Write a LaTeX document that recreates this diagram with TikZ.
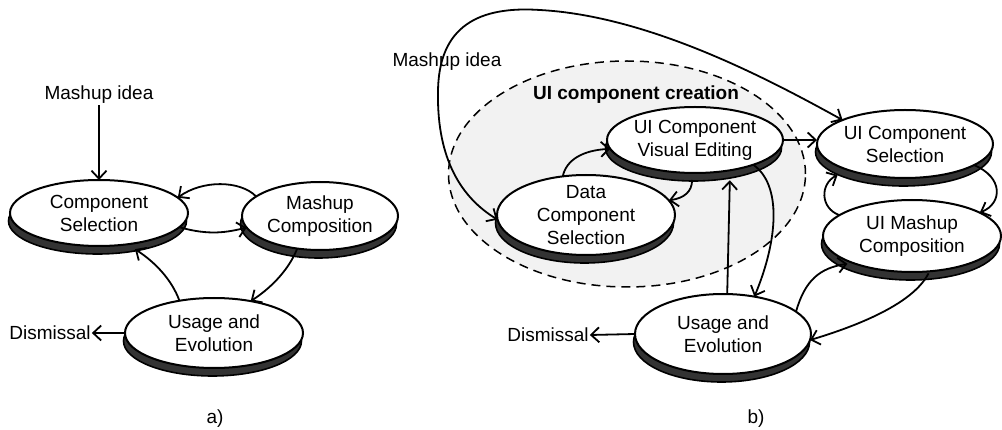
\documentclass[tikz,border=0pt]{standalone}
\usepackage{fontspec}
\setmainfont{Liberation Sans}
\usetikzlibrary{shapes.geometric,arrows.meta,shadows,calc}
\definecolor{shadowc}{HTML}{333333}
\definecolor{groupfill}{HTML}{F2F2F2}
\begin{document}
\begin{tikzpicture}[x=1pt,y=-1pt,
  ell/.style={ellipse, draw=black, fill=white, line width=2pt, inner sep=0pt, outer sep=0pt,
    general shadow={fill=shadowc, draw=black, line width=1.6pt, shadow xshift=-1.5pt, shadow yshift=-8pt}},
  lbl/.style={font=\fontsize{19}{23}\selectfont, align=center, inner sep=0pt},
  txt/.style={font=\fontsize{19}{23}\selectfont, inner sep=1pt},
  ttl/.style={font=\fontsize{19}{23}\selectfont\bfseries, inner sep=1pt},
  tip/.tip={Straight Barb[length=8pt,width=15pt]},
  conn/.style={line width=1.8pt, -tip},
  bconn/.style={line width=1.8pt, tip-tip},
]
\useasboundingbox (0,0) rectangle (1002,430);
\fill[white] (0,0) rectangle (1002,430);

% ---------- panel a ----------
\node[ell, minimum width=178pt, minimum height=66pt, label={[lbl]center:Component\\Selection}] (cs) at (99,213) {};
\node[ell, minimum width=156pt, minimum height=68pt, label={[lbl]center:Mashup\\Composition}] (mc) at (320,216) {};
\node[ell, minimum width=178pt, minimum height=70pt, label={[lbl]center:Usage and\\Evolution}] (usagea) at (214,333) {};
\node[txt] (ideaa) at (99,95) {Mashup idea};
\node[txt] (disa) at (50,333) {Dismissal};
\node[txt] (labela) at (215,419) {a)};

\draw[conn] (ideaa.south) -- (cs.north);
\draw[conn] (usagea.west) -- (disa.east);
\draw[conn] (mc.163) .. controls (240,180) and (202,180) .. (cs.11);
\draw[conn] (cs.-10) .. controls (210,236) and (228,232) .. (mc.-171);
\draw[conn] (mc.-125) .. controls (288,272) and (268,290) .. (usagea.41);
\draw[conn] (usagea.137) .. controls (172,280) and (155,262) .. ($(cs.-40)+(0pt,-6pt)$);

% ---------- panel b ----------
\node[ellipse, draw=black, dash pattern=on 9pt off 6pt, fill=groupfill, line width=1.5pt,
      minimum width=357pt, minimum height=226pt, inner sep=0pt] (grp) at (627,174) {};
\node[ttl] (grptitle) at (636,95) {UI component creation};

\node[ell, minimum width=176pt, minimum height=66pt, label={[lbl]center:UI Component\\Visual Editing}] (uicve) at (695,140) {};
\node[ell, minimum width=178pt, minimum height=80pt, label={[lbl]center:Data\\Component\\Selection}] (dcs) at (586,215) {};
\node[ell, minimum width=176pt, minimum height=68pt, label={[lbl]center:UI Component\\Selection}] (uics) at (905,144) {};
\node[ell, minimum width=178pt, minimum height=72pt, label={[lbl]center:UI Mashup\\Composition}] (uimc) at (912,236) {};
\node[ell, minimum width=176pt, minimum height=80pt, label={[lbl]center:Usage and\\Evolution}] (usageb) at (723,334) {};
\node[txt] (ideab) at (447,62) {Mashup idea};
\node[txt] (disb) at (548,335) {Dismissal};
\node[txt] (labelb) at (756,419) {b)};

\draw[bconn] (dcs.183) .. controls (462,198) and (437,160) .. (438,93)
   .. controls (438,25) and (480,6) .. (540,10)
   .. controls (650,16) and (770,80) .. (uics.159);
\draw[conn] (dcs.121) .. controls (566,160) and (583,150) .. (uicve.186);
\draw[conn] ($(uicve.-95)+(0pt,-7pt)$) .. controls (692,192) and (684,198) .. (dcs.10);
\draw[conn] (uicve.east) -- (uicve.east -| uics.west);
\draw[conn] (uicve.-23) .. controls (782,185) and (778,240) .. (usageb.50);
\draw[conn] (usageb.84) -- ($(uicve.-41)+(0pt,-10pt)$);
\draw[conn] (uics.-17) .. controls (1003,177) and (1003,203) .. (uimc.19);
\draw[conn] (uimc.164) .. controls (820,208) and (820,184) .. ($(uics.-162)+(0pt,-9pt)$);
\draw[conn] (usageb.17) .. controls (805,280) and (820,268) .. ($(uimc.-159)+(0pt,-3pt)$);
\draw[conn] ($(uimc.-65)+(0pt,-2pt)$) .. controls (915,300) and (870,322) .. (usageb.-4);
\draw[conn] (usageb.west) -- (disb.east);
\end{tikzpicture}
\end{document}
